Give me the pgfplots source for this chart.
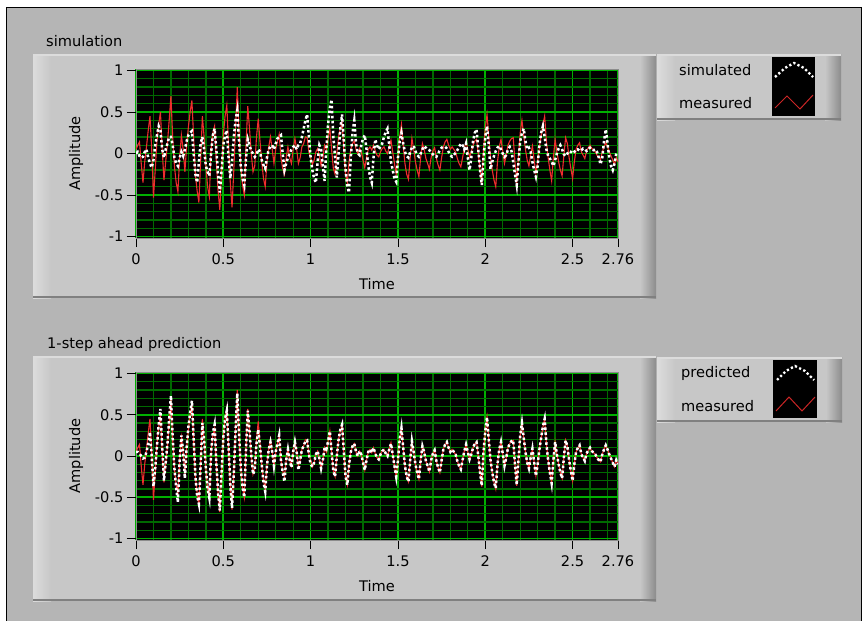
\documentclass[border=0pt]{standalone}
\usepackage{fontspec}
\setmainfont{DejaVu Sans}
\usepackage{pgfplots}
\pgfplotsset{compat=1.18}
\usepackage{pgfplotstable}
\definecolor{bg}{RGB}{181,181,181}
\definecolor{face}{RGB}{199,199,199}
\definecolor{facelight}{RGB}{220,220,220}
\definecolor{facedark}{RGB}{140,140,140}
\definecolor{gmajor}{RGB}{0,175,0}
\definecolor{gminor}{RGB}{0,105,0}
\definecolor{meas}{RGB}{240,45,45}
\newcommand{\lvfont}{\fontsize{14.6}{17}\selectfont}
\newcommand{\lvpanel}[4]{%
  \fill[face] (#1,#2) rectangle (#3,#4);
  \shade[left color=facelight, right color=face] (#1,#2) rectangle ({#1+18},#4);
  \shade[left color=face, right color=facedark] ({#3-16},#2) rectangle (#3,#4);
  \draw[facelight, line width=1.5pt] (#1,#2+0.75) -- (#3,#2+0.75);
  \draw[black!50, line width=2pt] (#1,#4-1) -- (#3,#4-1);
}

\pgfplotstableread{
t m s p
0.00 0.05 0.00 0.05
0.01 0.10 0.02 0.05
0.02 0.14 -0.03 0.03
0.03 -0.12 -0.05 0.00
0.04 -0.35 -0.04 -0.03
0.05 -0.10 0.02 -0.02
0.06 0.08 0.05 0.05
0.07 0.28 -0.05 0.15
0.08 0.45 -0.12 0.29
0.09 0.05 -0.17 0.00
0.10 -0.53 -0.08 -0.37
0.11 -0.20 0.10 -0.15
0.12 0.15 0.22 0.12
0.13 0.35 0.33 0.38
0.14 0.50 0.28 0.57
0.15 0.05 0.05 0.10
0.16 -0.32 -0.05 -0.30
0.17 -0.10 0.05 -0.08
0.18 0.12 0.12 0.15
0.19 0.40 0.20 0.45
0.20 0.69 0.20 0.73
0.21 0.20 0.10 0.22
0.22 -0.15 -0.05 -0.15
0.23 -0.35 -0.12 -0.38
0.24 -0.46 -0.15 -0.56
0.25 -0.05 -0.05 -0.05
0.26 0.22 0.02 0.25
0.27 0.05 -0.03 0.05
0.28 -0.22 0.05 -0.27
0.29 0.10 0.15 0.10
0.30 0.32 0.22 0.35
0.31 0.50 0.25 0.52
0.32 0.64 0.27 0.67
0.33 0.20 0.00 0.22
0.34 -0.25 -0.25 -0.25
0.35 -0.45 -0.35 -0.48
0.36 -0.59 -0.10 -0.58
0.37 -0.10 0.12 -0.12
0.38 0.45 0.20 0.40
0.39 0.20 0.05 0.20
0.40 -0.15 -0.15 -0.15
0.41 -0.40 -0.22 -0.40
0.42 -0.52 -0.27 -0.51
0.43 0.05 0.00 0.05
0.44 0.25 0.22 0.28
0.45 0.33 0.30 0.38
0.46 -0.10 0.05 -0.08
0.47 -0.45 -0.25 -0.45
0.48 -0.68 -0.47 -0.66
0.49 -0.20 -0.20 -0.20
0.50 0.22 0.10 0.22
0.51 0.45 0.22 0.45
0.52 0.58 0.28 0.55
0.53 0.10 -0.05 0.12
0.54 -0.35 -0.30 -0.35
0.55 -0.65 -0.10 -0.63
0.56 -0.20 0.20 -0.22
0.57 0.30 0.40 0.30
0.58 0.80 0.52 0.76
0.59 0.25 0.15 0.28
0.60 -0.15 -0.15 -0.15
0.61 -0.38 -0.30 -0.38
0.62 -0.50 -0.38 -0.50
0.63 0.10 -0.05 0.08
0.64 0.57 0.17 0.55
0.65 0.30 0.10 0.30
0.66 0.00 0.03 0.02
0.67 -0.22 0.00 -0.22
0.68 -0.15 -0.04 -0.17
0.69 0.20 -0.02 0.15
0.70 0.42 0.05 0.32
0.71 0.15 0.02 0.12
0.72 -0.10 -0.08 -0.10
0.73 -0.30 -0.14 -0.32
0.74 -0.40 -0.18 -0.43
0.75 -0.10 -0.05 -0.12
0.76 0.08 0.05 0.08
0.77 0.20 0.08 0.17
0.78 0.05 0.10 0.05
0.79 -0.12 0.05 -0.12
0.80 0.05 0.12 0.05
0.81 0.15 0.18 0.15
0.82 0.23 0.20 0.25
0.83 -0.05 0.22 -0.05
0.84 -0.18 0.00 -0.20
0.85 -0.25 -0.20 -0.31
0.86 -0.05 -0.12 -0.05
0.87 0.08 -0.05 0.08
0.88 -0.05 0.00 -0.05
0.89 -0.12 0.05 -0.14
0.90 0.05 0.08 0.05
0.91 0.18 0.10 0.17
0.92 0.05 0.05 0.05
0.93 -0.12 0.10 -0.17
0.94 -0.05 0.12 -0.05
0.95 0.08 0.20 0.08
0.96 0.12 0.30 0.12
0.97 0.20 0.40 0.18
0.98 0.19 0.47 0.19
0.99 0.02 0.20 0.02
1.00 -0.05 -0.05 -0.10
1.01 -0.13 -0.20 -0.13
1.02 -0.08 -0.30 -0.08
1.03 0.02 -0.35 0.02
1.04 0.06 -0.10 0.06
1.05 -0.03 0.10 -0.03
1.06 -0.15 0.05 -0.15
1.07 -0.05 -0.15 -0.05
1.08 0.10 -0.33 0.10
1.09 0.05 0.05 0.08
1.10 0.18 0.35 0.18
1.11 0.30 0.55 0.30
1.12 0.05 0.65 0.05
1.13 -0.18 0.20 -0.18
1.14 -0.25 -0.05 -0.25
1.15 0.00 -0.29 0.00
1.16 0.20 0.00 0.20
1.17 0.30 0.30 0.32
1.18 0.38 0.47 0.38
1.19 0.05 0.15 0.05
1.20 -0.25 -0.20 -0.25
1.21 -0.35 -0.40 -0.35
1.22 -0.10 -0.47 -0.10
1.23 0.05 -0.05 0.05
1.24 0.12 0.25 0.12
1.25 0.15 0.40 0.15
1.26 0.05 0.12 0.05
1.27 0.00 0.00 0.00
1.28 0.06 -0.02 0.06
1.29 0.02 0.10 0.02
1.30 -0.08 0.18 -0.08
1.31 -0.17 0.22 -0.17
1.32 -0.05 0.05 -0.05
1.33 0.05 -0.15 0.05
1.34 0.08 -0.28 0.08
1.35 0.04 -0.35 0.04
1.36 0.10 -0.05 0.10
1.37 0.03 0.17 0.03
1.38 -0.02 0.10 -0.02
1.39 -0.04 0.05 -0.04
1.40 0.02 0.08 0.02
1.41 0.06 0.12 0.06
1.42 0.08 0.20 0.08
1.43 0.03 0.26 0.03
1.44 0.00 0.30 0.00
1.45 0.08 0.10 0.08
1.46 0.16 -0.10 0.15
1.47 0.02 -0.20 0.02
1.48 -0.12 -0.30 -0.12
1.49 -0.25 -0.34 -0.25
1.50 -0.05 -0.05 -0.05
1.51 0.20 0.15 0.20
1.52 0.35 0.25 0.34
1.53 0.10 0.12 0.10
1.54 -0.12 0.02 -0.12
1.55 -0.25 -0.03 -0.25
1.56 -0.31 -0.05 -0.31
1.57 -0.05 0.02 -0.05
1.58 0.18 0.07 0.18
1.59 0.05 0.09 0.05
1.60 -0.10 0.03 -0.10
1.61 -0.20 -0.02 -0.20
1.62 -0.28 -0.04 -0.28
1.63 -0.05 0.00 -0.05
1.64 0.12 0.05 0.12
1.65 0.05 0.09 0.05
1.66 -0.06 0.07 -0.06
1.67 -0.12 0.05 -0.12
1.68 -0.19 0.04 -0.19
1.69 -0.05 0.02 -0.05
1.70 0.03 -0.01 0.03
1.71 0.07 -0.03 0.07
1.72 -0.06 -0.04 -0.06
1.73 -0.14 0.00 -0.14
1.74 -0.20 0.04 -0.20
1.75 -0.05 0.07 -0.05
1.76 0.08 0.08 0.08
1.77 0.14 0.08 0.14
1.78 0.17 0.06 0.17
1.79 0.10 0.02 0.10
1.80 0.05 -0.02 0.05
1.81 0.08 -0.04 0.08
1.82 0.05 -0.02 0.05
1.83 0.02 0.01 0.02
1.84 -0.06 0.04 -0.06
1.85 -0.12 0.08 -0.12
1.86 -0.16 0.12 -0.16
1.87 -0.05 0.10 -0.05
1.88 0.06 0.05 0.06
1.89 0.14 0.12 0.14
1.90 0.05 -0.05 0.05
1.91 -0.04 -0.20 -0.04
1.92 0.02 -0.05 0.02
1.93 0.10 0.15 0.10
1.94 0.15 0.25 0.15
1.95 0.17 0.29 0.17
1.96 0.00 0.05 0.00
1.97 -0.20 -0.20 -0.20
1.98 -0.37 -0.38 -0.36
1.99 0.05 -0.05 0.05
2.00 0.30 0.20 0.30
2.01 0.47 0.33 0.47
2.02 0.20 0.10 0.20
2.03 -0.05 -0.19 -0.05
2.04 -0.20 -0.10 -0.20
2.05 -0.32 -0.03 -0.32
2.06 -0.40 0.03 -0.39
2.07 -0.10 0.07 -0.10
2.08 0.08 0.09 0.08
2.09 0.17 0.05 0.17
2.10 0.03 0.00 0.03
2.11 -0.12 -0.04 -0.12
2.12 -0.02 -0.02 -0.02
2.13 0.10 0.05 0.10
2.14 0.15 0.08 0.15
2.15 0.18 0.03 0.18
2.16 0.19 -0.10 0.19
2.17 -0.10 -0.25 -0.10
2.18 -0.36 -0.38 -0.35
2.19 -0.05 -0.10 -0.05
2.20 0.25 0.15 0.25
2.21 0.40 0.25 0.40
2.22 0.22 0.30 0.22
2.23 0.05 0.15 0.05
2.24 -0.08 0.05 -0.08
2.25 -0.15 0.07 -0.15
2.26 -0.02 0.02 -0.02
2.27 0.09 -0.10 0.09
2.28 -0.08 -0.20 -0.08
2.29 -0.24 -0.28 -0.24
2.30 -0.10 -0.15 -0.10
2.31 0.08 0.10 0.08
2.32 0.22 0.25 0.22
2.33 0.35 0.33 0.36
2.34 0.45 0.20 0.45
2.35 0.15 0.05 0.15
2.36 -0.05 -0.03 -0.05
2.37 -0.20 -0.06 -0.20
2.38 -0.33 -0.10 -0.33
2.39 -0.05 -0.15 -0.05
2.40 0.17 -0.08 0.17
2.41 0.02 0.00 0.02
2.42 -0.10 0.06 -0.10
2.43 -0.20 0.10 -0.20
2.44 -0.27 0.05 -0.27
2.45 -0.02 -0.01 -0.02
2.46 0.19 -0.03 0.19
2.47 0.12 0.00 0.12
2.48 -0.05 0.03 -0.05
2.49 -0.18 0.02 -0.18
2.50 -0.30 0.00 -0.30
2.51 -0.10 0.02 -0.10
2.52 0.05 0.05 0.05
2.53 0.10 0.05 0.10
2.54 0.13 0.03 0.13
2.55 0.02 0.04 0.02
2.56 -0.02 0.06 -0.02
2.57 -0.06 0.05 -0.06
2.58 0.03 0.03 0.03
2.59 0.07 0.05 0.07
2.60 0.10 0.07 0.10
2.61 0.06 0.05 0.06
2.62 0.04 0.04 0.04
2.63 0.02 0.05 0.02
2.64 -0.02 0.02 -0.02
2.65 -0.05 -0.05 -0.05
2.66 -0.07 -0.13 -0.07
2.67 0.02 -0.05 0.02
2.68 0.08 0.15 0.08
2.69 0.13 0.29 0.13
2.70 0.08 0.12 0.08
2.71 0.02 -0.05 0.02
2.72 -0.03 -0.15 -0.03
2.73 -0.08 -0.20 -0.08
2.74 -0.13 -0.12 -0.13
2.75 -0.05 0.00 -0.05
2.76 -0.10 0.00 -0.10
}\datatab

\pgfplotsset{lvaxis/.style={
  scale only axis, width=482pt,
  xmin=0, xmax=2.76, ymin=-1.018, ymax=1.018,
  axis background/.style={fill=black},
  axis line style={draw=black!45, line width=0.6pt},
  xtick={0,0.5,1,1.5,2,2.5,2.76},
  xticklabels={0,0.5,1,1.5,2,2.5,2.76},
  ytick={-1,-0.5,0,0.5,1},
  yticklabels={-1,-0.5,0,0.5,1},
  minor xtick={0.1,0.2,0.3,0.4,0.6,0.7,0.8,0.9,1.1,1.2,1.3,1.4,1.6,1.7,1.8,1.9,2.1,2.2,2.3,2.4,2.6,2.7},
  minor ytick={-0.9,-0.8,-0.7,-0.6,-0.4,-0.3,-0.2,-0.1,0.1,0.2,0.3,0.4,0.6,0.7,0.8,0.9},
  grid=both,
  every major grid/.style={draw=gmajor, line width=1.7pt},
  every minor grid/.style={draw=gminor, line width=1.3pt},
  tick align=outside, major tick length=9pt, minor tick length=0pt,
  tick pos=left,
  major tick style={black, line width=0.8pt},
  tick label style={font=\lvfont},
  xticklabel style={yshift=-3pt},
  label style={font=\lvfont},
  xlabel={Time}, ylabel={Amplitude},
  xlabel style={at={(axis description cs:0.5,-0.272)}, anchor=center},
  ylabel style={at={(axis description cs:-0.1245,0.5)}, anchor=center},
  clip=true,
}}

\begin{document}
\begin{tikzpicture}
\begin{scope}[x=1pt,y=-1pt]
  \path[use as bounding box] (0,0) rectangle (865,621);
  \fill[white] (0,0) rectangle (865,621);
  \fill[bg] (6.5,7.5) rectangle (861.5,640);
  \draw[black, line width=1.2pt] (6.5,640) -- (6.5,7.5) -- (861.5,7.5) -- (861.5,640);
  \lvpanel{33}{54}{656}{298}
  \lvpanel{657}{54}{841}{120}
  \lvpanel{33}{356}{656}{601}
  \lvpanel{657}{357}{842}{422}
  \node[anchor=base west, font=\lvfont, inner sep=0pt] at (46,46.5) {simulation};
  \node[anchor=base west, font=\lvfont, inner sep=0pt] at (47,348.5) {1-step ahead prediction};
  % legend 1
  \node[anchor=base west, font=\lvfont, inner sep=0pt] at (679,75) {simulated};
  \node[anchor=base west, font=\lvfont, inner sep=0pt] at (679,108) {measured};
  \fill[black] (772,57) rectangle (815,116);
  \draw[white, line width=2.4pt, dash pattern=on 2.2pt off 2.4pt] (775,77) -- (785,68) -- (794,63) -- (804,68) -- (813,77);
  \draw[meas!85!black, line width=1pt] (775,108) -- (787,96) -- (800,109) -- (813,95);
  % legend 2
  \node[anchor=base west, font=\lvfont, inner sep=0pt] at (681,377) {predicted};
  \node[anchor=base west, font=\lvfont, inner sep=0pt] at (681,411) {measured};
  \fill[black] (773,360) rectangle (817,418);
  \draw[white, line width=2.4pt, dash pattern=on 2.2pt off 2.4pt] (777,380) -- (786,371) -- (795,366) -- (805,371) -- (814,380);
  \draw[meas!85!black, line width=1pt] (776,411) -- (789,397) -- (802,411) -- (815,397);
\end{scope}

\begin{axis}[lvaxis, at={(136pt,-238pt)}, anchor=south west, height=169pt]
  \addplot[meas, line width=1.1pt] table[x=t, y=m] {\datatab};
  \addplot[white, line width=2.5pt, dash pattern=on 2.5pt off 2.5pt] table[x=t, y=s] {\datatab};
\end{axis}

\begin{axis}[lvaxis, at={(136pt,-540pt)}, anchor=south west, height=168pt]
  \addplot[meas, line width=1.1pt] table[x=t, y=m] {\datatab};
  \addplot[white, line width=2.5pt, dash pattern=on 2.5pt off 2.5pt] table[x=t, y=p] {\datatab};
\end{axis}
\end{tikzpicture}
\end{document}
